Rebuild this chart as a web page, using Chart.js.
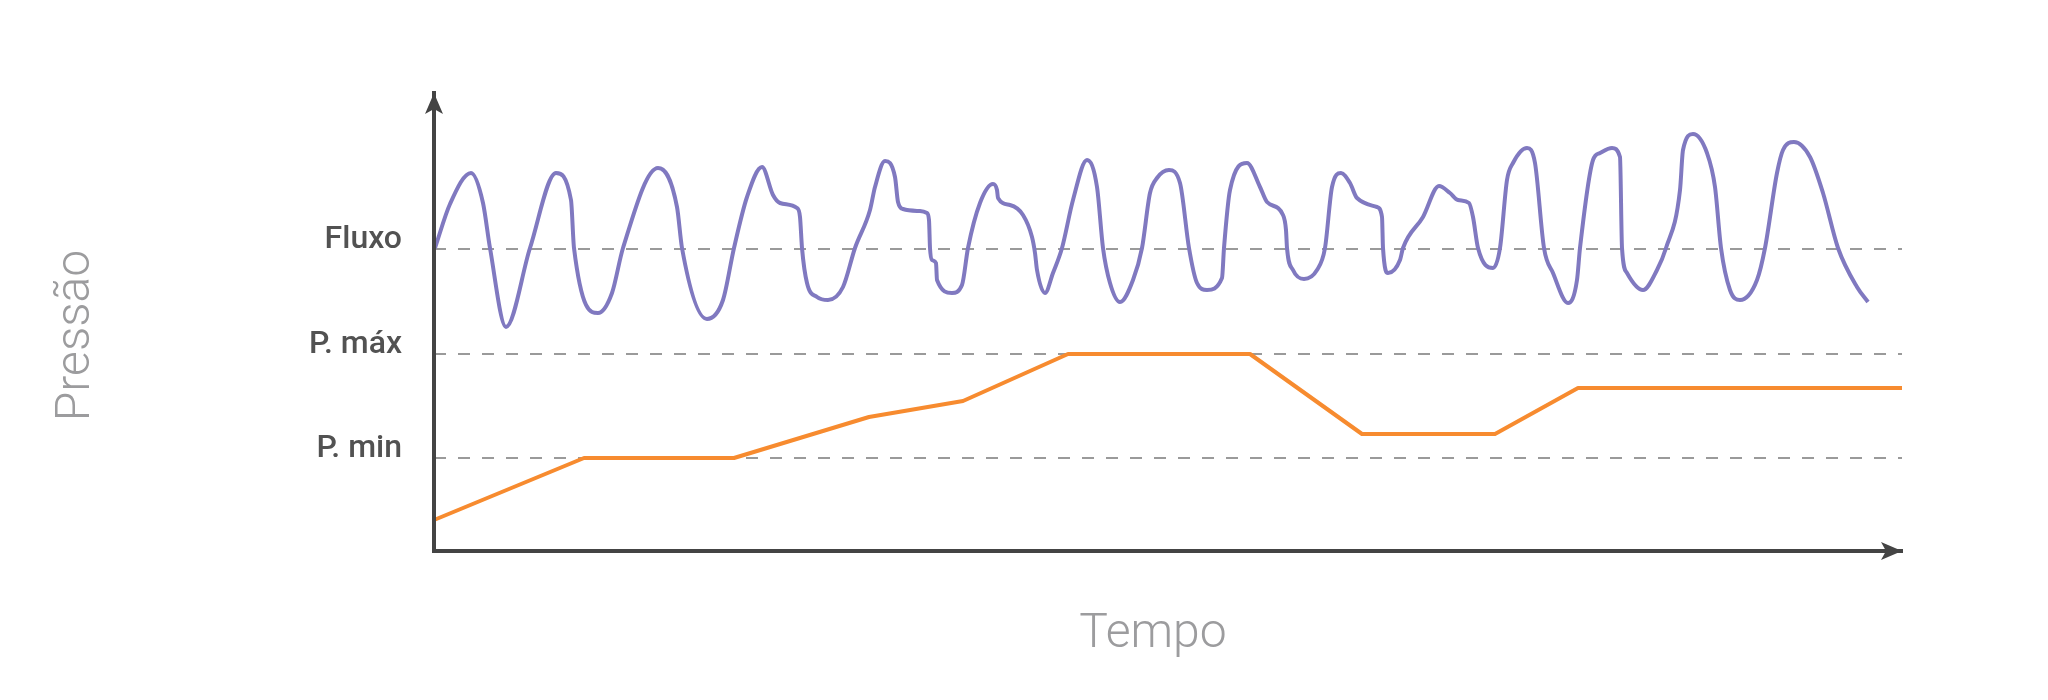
<!DOCTYPE html>
<html>
<head>
<meta charset="utf-8">
<script src="https://cdn.jsdelivr.net/npm/chart.js@4.4.1/dist/chart.umd.min.js"></script>
<style>
html,body{margin:0;padding:0;background:#ffffff;}
#wrap{width:2048px;height:700px;position:relative;}
</style>
</head>
<body>
<div id="wrap"><canvas id="c" width="2048" height="700"></canvas></div>
<script>
// ---- data (time units along x, pressure units along y) ----
const flowTime = [1,16,37,49,56,72,96,122,137,140,
  164,178,189,224,243,248,273,289,300,313,
  328,339,346,363,366,368,373,383,394,409,
  421,436,441,451,461,464,469,486,493,495,
  496,498,502,503,518,528,534,546,559,563,
  564,576,589,598,601,603,611,619,628,639,
  653,663,669,676,686,699,708,716,723,735,
  746,755,763,773,788,790,796,813,826,833,
  849,852,853,859,870,883,891,898,907,916,
  923,943,948,949,954,966,969,989,1005,1016,
  1024,1035,1039,1044,1059,1066,1073,1079,1093,1101,
  1110,1119,1134,1143,1146,1159,1166,1178,1186,1188,
  1193,1209,1223,1232,1246,1249,1259,1273,1281,1287,
  1296,1306,1323,1331,1343,1349,1360,1376,1389,1404,
  1423,1434];
const flowValues = [303,347,378,348,303,224,303,378,351,303,
  238,258,303,383,344,303,232,251,303,354,
  384,356,348,343,334,303,268,254,251,264,
  303,341,364,390,374,349,342,340,338,331,
  303,291,288,271,258,266,303,348,367,361,
  353,346,336,314,298,281,258,278,303,351,
  391,364,303,268,249,271,303,358,373,381,
  368,303,268,261,273,303,361,388,364,349,
  336,321,303,281,272,281,303,364,378,368,
  353,344,334,303,278,291,303,334,365,358,
  351,348,334,303,283,303,371,388,403,388,
  303,278,248,271,303,391,398,403,394,303,
  278,261,281,303,361,401,417,398,364,303,
  261,251,271,303,378,401,409,394,358,303,
  264,249];
const pressureTime = [0,150,300,435,529,634,816,928,1061,1144,1468];
const pressureValues = [31,93,93,134,150,197,197,117,117,163,163];
const levelValues = [93,197,302];
const levelLabels = ['P. min','P. máx','Fluxo'];
const timeMax = 1468;
const valueMax = 458;
const xTitle = 'Tempo';
const yTitle = 'Pressão';

// ---- styles ----
const axisColor = '#444444';
const flowColor = '#8079c0';
const pressureColor = '#f78b2f';
const dashColor = '#9a9a9a';
const titleColor = '#9c9c9e';
const labelColor = '#525252';
const titleFont = '300 48px Roboto';

const toPoints = (xs, ys) => xs.map((t, i) => ({x: t, y: ys[i]}));

const datasets = [
  {label: 'Fluxo', data: toPoints(flowTime, flowValues), borderColor: flowColor, borderWidth: 4,
   pointRadius: 0, cubicInterpolationMode: 'monotone', clip: false, order: 0, fill: false},
  {label: 'Pressão', data: toPoints(pressureTime, pressureValues), borderColor: pressureColor, borderWidth: 4,
   pointRadius: 0, tension: 0, clip: false, order: 1, fill: false, borderJoinStyle: 'round'}
];
levelValues.forEach((v, i) => {
  datasets.push({label: levelLabels[i], data: [{x: 0, y: v}, {x: timeMax, y: v}], borderColor: dashColor,
    borderWidth: 2, borderDash: [12, 12], pointRadius: 0, clip: false, order: 2 + i, fill: false});
});

const arrowPlugin = {
  id: 'axisArrows',
  afterDraw(chart) {
    const {ctx, chartArea, scales: {x, y}} = chart;
    const x0 = x.getPixelForValue(0), x1 = x.getPixelForValue(timeMax);
    const y0 = y.getPixelForValue(0), y1 = y.getPixelForValue(valueMax);
    ctx.save();
    ctx.fillStyle = axisColor;
    ctx.beginPath();
    ctx.moveTo(x0, y1);
    ctx.lineTo(x0 + 9, y1 + 21);
    ctx.lineTo(x0, y1 + 16);
    ctx.lineTo(x0 - 9, y1 + 21);
    ctx.closePath();
    ctx.fill();
    ctx.beginPath();
    ctx.moveTo(x1, y0);
    ctx.lineTo(x1 - 21, y0 - 9);
    ctx.lineTo(x1 - 16, y0);
    ctx.lineTo(x1 - 21, y0 + 9);
    ctx.closePath();
    ctx.fill();
    // axis titles
    ctx.fillStyle = titleColor;
    ctx.font = titleFont;
    ctx.textAlign = 'center';
    ctx.textBaseline = 'alphabetic';
    ctx.fillText(xTitle, (chartArea.left + chartArea.right) / 2 - 15, chartArea.bottom + 96);
    ctx.translate(chartArea.left - 345, (chartArea.top + chartArea.bottom) / 2 + 13.5);
    ctx.rotate(-Math.PI / 2);
    ctx.fillText(yTitle, 0, 0);
    ctx.restore();
  }
};

new Chart(document.getElementById('c'), {
  type: 'line',
  data: {datasets},
  plugins: [arrowPlugin],
  options: {
    responsive: false,
    animation: false,
    devicePixelRatio: 1,
    layout: {padding: {left: 0, right: 146, top: 93, bottom: 0}},
    plugins: {legend: {display: false}, tooltip: {enabled: false}},
    scales: {
      x: {
        type: 'linear', min: 0, max: timeMax, position: 'bottom',
        grid: {display: false, drawTicks: false},
        border: {display: true, color: axisColor, width: 4, z: 1},
        ticks: {display: false},
        title: {display: false},
        afterFit(s) { s.height = 149; }
      },
      y: {
        type: 'linear', min: 0, max: valueMax, position: 'left',
        grid: {display: false, drawTicks: false},
        border: {display: true, color: axisColor, width: 4, z: 1},
        afterBuildTicks(s) { s.ticks = levelValues.map(v => ({value: v})); },
        ticks: {
          display: true, autoSkip: false, padding: 32, labelOffset: -9, color: labelColor,
          font: {family: 'Roboto', size: 32, weight: 500},
          callback: (v) => { const i = levelValues.indexOf(v); return i >= 0 ? levelLabels[i] : ''; }
        },
        title: {display: false},
        afterFit(s) { s.width = 434; }
      }
    }
  }
});
</script>
</body>
</html>
